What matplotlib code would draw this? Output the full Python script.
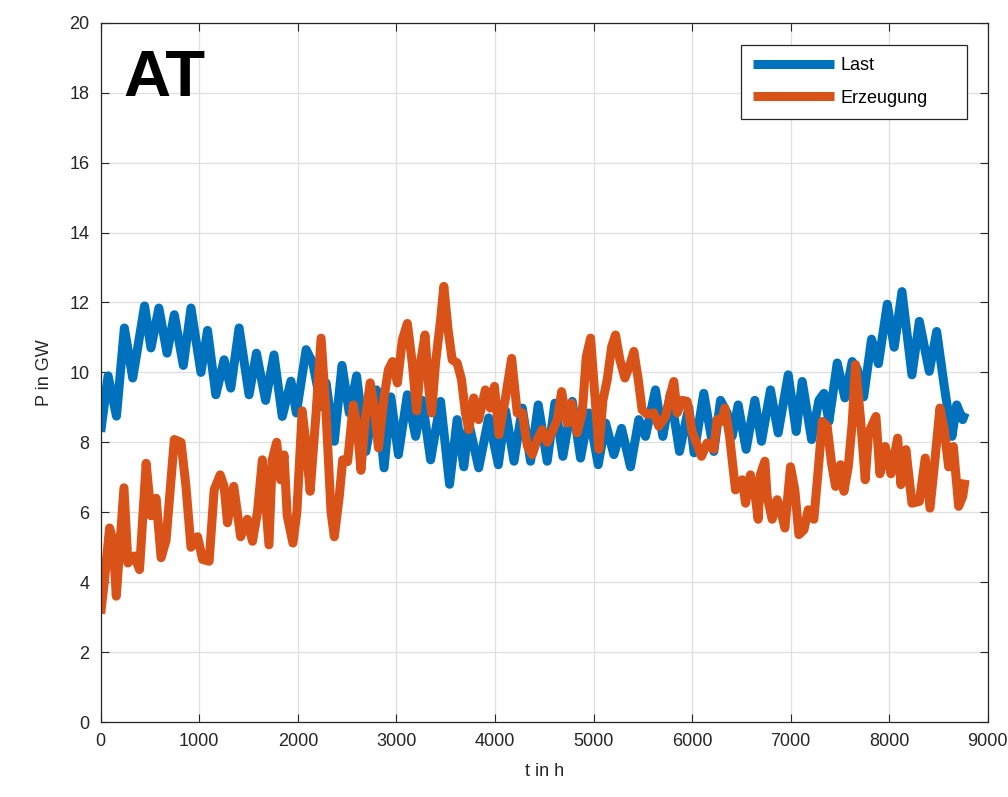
import matplotlib.pyplot as plt

# Last (load), t in h, P in GW
t_last = [0, 75, 160, 240, 325, 445, 510, 590, 673, 747, 838, 916, 1017, 1084,
          1168, 1252, 1320, 1404, 1505, 1580, 1673, 1758, 1842, 1930, 1985,
          2084, 2152, 2236, 2286, 2370, 2448, 2522, 2596, 2690, 2798, 2875,
          2943, 3020, 3111, 3195, 3263, 3347, 3448, 3539, 3616, 3684, 3734,
          3835, 3936, 4034, 4108, 4193, 4277, 4361, 4439, 4530, 4608, 4689,
          4784, 4868, 4953, 5047, 5122, 5206, 5284, 5375, 5459, 5527, 5628,
          5703, 5780, 5872, 5966, 6020, 6118, 6220, 6288, 6355, 6406, 6467,
          6548, 6636, 6704, 6795, 6873, 6975, 7056, 7117, 7212, 7286, 7337,
          7388, 7472, 7550, 7624, 7675, 7740, 7820, 7890, 7980, 8050, 8129,
          8230, 8305, 8406, 8481, 8558, 8609, 8636, 8684, 8745, 8770]
p_last = [8.3, 9.9, 8.75, 11.27, 9.84, 11.9, 10.7, 11.84, 10.55, 11.65, 10.2,
          11.84, 10.0, 11.2, 9.36, 10.36, 9.55, 11.27, 9.36, 10.55, 9.2, 10.5,
          8.74, 9.75, 8.84, 10.65, 10.27, 9.03, 9.7, 8.03, 10.2, 8.84, 9.9,
          7.74, 9.5, 7.27, 9.3, 7.65, 9.36, 8.17, 9.2, 7.5, 9.17, 6.8, 8.65,
          7.3, 8.55, 7.27, 8.7, 7.36, 8.9, 7.46, 8.98, 7.46, 9.07, 7.46, 9.12,
          7.6, 9.17, 7.55, 8.84, 7.36, 8.55, 7.65, 8.4, 7.3, 8.65, 8.17, 9.5,
          8.17, 9.4, 7.74, 9.0, 7.7, 9.4, 7.74, 9.2, 8.84, 8.17, 9.07, 7.8,
          9.2, 8.03, 9.5, 8.27, 9.93, 8.31, 9.74, 8.08, 9.2, 9.4, 8.6, 10.27,
          9.27, 10.31, 10.1, 9.3, 10.95, 10.25, 11.95, 10.72, 12.31, 9.93,
          11.46, 10.03, 11.17, 9.6, 8.65, 8.17, 9.07, 8.65, 8.84]

# Erzeugung (generation)
t_erz = [0, 40, 90, 125, 158, 236, 276, 343, 394, 461, 512, 562, 613, 663,
         747, 815, 865, 916, 983, 1034, 1100, 1151, 1212, 1252, 1286, 1350,
         1420, 1488, 1540, 1590, 1640, 1707, 1740, 1785, 1825, 1860, 1892,
         1950, 1990, 2044, 2077, 2125, 2185, 2236, 2286, 2337, 2370, 2420,
         2455, 2505, 2562, 2606, 2640, 2683, 2734, 2774, 2818, 2875, 2919,
         2960, 3010, 3060, 3111, 3161, 3205, 3245, 3290, 3330, 3357, 3397,
         3448, 3481, 3525, 3566, 3616, 3660, 3700, 3734, 3784, 3835, 3902,
         3953, 3995, 4040, 4108, 4169, 4226, 4277, 4328, 4378, 4429, 4480,
         4530, 4581, 4632, 4676, 4733, 4777, 4834, 4885, 4926, 4970, 5014,
         5054, 5095, 5139, 5184, 5223, 5267, 5318, 5375, 5409, 5453, 5493,
         5544, 5611, 5662, 5730, 5780, 5814, 5848, 5899, 5949, 6000, 6095,
         6152, 6220, 6254, 6298, 6332, 6380, 6440, 6508, 6542, 6592, 6636,
         6670, 6694, 6738, 6761, 6812, 6863, 6897, 6941, 6998, 7042, 7083,
         7134, 7178, 7235, 7279, 7320, 7370, 7414, 7455, 7506, 7540, 7584,
         7624, 7658, 7709, 7756, 7790, 7865, 7905, 7959, 8017, 8085, 8118,
         8169, 8230, 8305, 8365, 8413, 8467, 8514, 8558, 8602, 8650, 8704,
         8745, 8770]
p_erz = [3.1, 4.1, 5.55, 5.2, 3.6, 6.7, 4.55, 4.75, 4.36, 7.4, 5.9, 6.4, 4.7,
         5.2, 8.08, 8.0, 6.74, 5.0, 5.3, 4.65, 4.6, 6.64, 7.07, 6.74, 5.7,
         6.74, 5.3, 5.8, 5.17, 6.0, 7.5, 5.07, 7.5, 8.0, 6.93, 7.64, 5.9,
         5.12, 6.0, 8.9, 8.08, 6.6, 8.84, 10.98, 8.84, 6.0, 5.3, 6.45, 7.5,
         7.45, 9.07, 8.36, 7.2, 8.65, 9.7, 9.03, 7.84, 9.3, 10.08, 10.31, 9.7,
         10.93, 11.4, 10.27, 8.9, 10.27, 11.07, 9.5, 8.84, 10.27, 11.5, 12.46,
         11.2, 10.36, 10.27, 9.8, 8.84, 8.36, 9.27, 8.65, 9.5, 8.98, 9.6,
         8.22, 9.3, 10.4, 8.84, 8.84, 7.9, 7.65, 8.08, 8.36, 8.0, 8.31, 8.65,
         9.45, 8.55, 9.12, 8.27, 8.84, 10.45, 10.98, 9.3, 7.8, 9.2, 9.8,
         10.74, 11.07, 10.36, 9.84, 10.27, 10.6, 9.8, 8.93, 8.8, 8.84, 8.46,
         8.74, 9.36, 9.74, 8.84, 9.2, 9.17, 8.3, 7.6, 7.98, 7.8, 8.65, 8.6,
         8.98, 8.17, 6.64, 6.93, 6.26, 7.07, 6.55, 5.8, 7.1, 7.46, 6.45, 5.8,
         6.36, 6.07, 5.55, 7.3, 6.64, 5.36, 5.5, 6.07, 5.8, 7.2, 8.6, 8.46,
         7.41, 6.74, 7.36, 6.6, 7.3, 8.55, 10.22, 8.65, 6.93, 8.27, 8.74, 7.1,
         7.88, 7.1, 8.12, 6.79, 7.79, 6.26, 6.31, 7.55, 6.12, 7.6, 8.98, 8.36,
         7.3, 7.88, 6.17, 6.45, 6.93]

plt.rcParams['font.family'] = ['Liberation Sans', 'DejaVu Sans']
dark = '#262626'

fig = plt.figure(figsize=(10.08, 7.97), dpi=100)
ax = fig.add_axes([0.0999, 0.094, 0.8801, 0.8775])

ax.plot(t_last, p_last, color='#0072BD', lw=6.5, solid_joinstyle='round',
        solid_capstyle='butt', label='Last')
ax.plot(t_erz, p_erz, color='#D95319', lw=6.5, solid_joinstyle='round',
        solid_capstyle='butt', label='Erzeugung')

ax.set_xlim(0, 9000)
ax.set_ylim(0, 20)
ax.set_xticks(range(0, 9001, 1000))
ax.set_yticks(range(0, 21, 2))
ax.grid(True, color='#dfdfdf', lw=0.9)
ax.set_axisbelow(True)
ax.tick_params(direction='in', length=6, width=0.8, top=True, right=True,
               labelsize=13, colors=dark, pad=8)
for s in ax.spines.values():
    s.set_color(dark)
    s.set_linewidth(0.9)

ax.set_xlabel('t in h', fontsize=13, color=dark, labelpad=9)
ax.set_ylabel('P in GW', fontsize=13, color=dark, labelpad=12)

ax.text(235, 17.9, 'AT', fontsize=47, fontweight='bold', ha='left',
        va='baseline', color='black')

# MATLAB-style legend box with extra room on the right
leg = ax.legend(loc='upper left', bbox_to_anchor=(0.7216, 0.968, 0.2544, 0),
                mode='expand', fontsize=13, fancybox=False, edgecolor=dark,
                framealpha=1, handlelength=4.5, labelspacing=0.85,
                borderpad=0.68, handletextpad=0.35, borderaxespad=0)
leg.get_frame().set_linewidth(0.9)

fig.savefig('out.png', dpi=100)
